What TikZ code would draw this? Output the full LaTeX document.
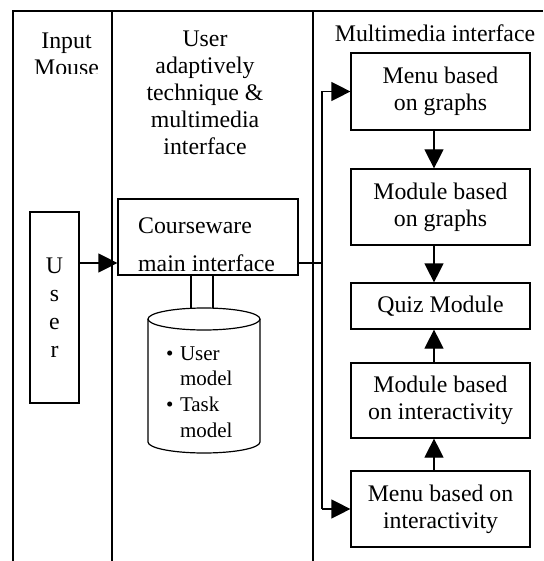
\documentclass[tikz,border=0pt]{standalone}
\usepackage{fontspec}
\setmainfont{Liberation Serif}
\usetikzlibrary{arrows.meta}
\begin{document}
\begin{tikzpicture}[x=1pt,y=1pt,
  every node/.style={font=\fontsize{23.8}{27}\selectfont, inner sep=0pt},
  box/.style={draw, line width=1.2pt, align=center},
  rbox/.style={box, minimum width=179},
  ln/.style={line width=1.2pt},
  arr/.style={line width=1.2pt, -{Triangle[length=19pt,width=19pt]}}]
\useasboundingbox (0,0) rectangle (543,-561);
% frame and column dividers
\draw[ln] (13,-561) -- (13,-11) -- (543,-11);
\draw[ln] (112,-11) -- (112,-561);
\draw[ln] (313,-11) -- (313,-561);
% headings
\begin{scope}
\clip (13,-11) rectangle (112,-73.5);
\node[align=center, anchor=north] (hin) at (66.5,-29.1) {\strut Input\\Mouse};
\end{scope}
\node[align=center, anchor=north] (hua) at (205,-27.6) {\strut User\\adaptively\\technique \&\\multimedia\\interface};
\node[anchor=base] (hmm) at (435,-42) {Multimedia interface};
% user
\node[box, minimum width=49, minimum height=191, font=\fontsize{23.8}{28}\selectfont] (user) at (54.5,-307.5) {U\\s\\e\\r};
% courseware
\node[box, minimum width=180, minimum height=76] (cw) at (208,-237) {};
\node[align=left, anchor=north west, font=\fontsize{23.8}{38}\selectfont] (cwt) at (138,-206.4) {\strut Courseware\\main interface};
% pipe to database
\draw[ln] ([xshift=-17pt]cw.south) -- ++(0,-33.5);
\draw[ln] ([xshift=5pt]cw.south) -- ++(0,-33.5);
% database cylinder
\draw[ln, fill=white] (204,-319) ellipse [x radius=56, y radius=11];
\draw[ln] (148,-319) -- (148,-442) arc[start angle=180, end angle=360, x radius=56, y radius=11] -- (260,-319);
\node[anchor=north west, font=\fontsize{21}{25.7}\selectfont] (db) at (166,-342) {\begin{tabular}{@{}l@{\hspace{6.5pt}}l@{}}\textbullet & User\\ & model\\ \textbullet & Task\\ & model\end{tabular}};
% right column boxes
\node[rbox, minimum height=77] (mg) at (440.5,-91.5) {Menu based\\on graphs};
\node[rbox, minimum height=76] (modg) at (440.5,-207) {Module based\\on graphs};
\node[rbox, minimum height=46] (quiz) at (440.5,-306) {Quiz Module};
\node[rbox, minimum height=75] (modi) at (440.5,-400.5) {Module based\\on interactivity};
\node[rbox, minimum height=76] (mi) at (440.5,-509) {Menu based on\\interactivity};
% arrows in right column
\draw[arr] ([xshift=-6.5pt]mg.south) -- ([xshift=-6.5pt]modg.north);
\draw[arr] ([xshift=-6.5pt]modg.south) -- ([xshift=-6.5pt]quiz.north);
\draw[arr] ([xshift=-6.5pt]modi.north) -- ([xshift=-6.5pt]quiz.south);
\draw[arr] ([xshift=-6.5pt]mi.north) -- ([xshift=-6.5pt]modi.south);
% user to courseware
\coordinate (lvl) at (0,-263);
\draw[arr] (user.east |- lvl) -- (cw.west |- lvl);
% courseware to multimedia bus
\coordinate (bus) at (322,0);
\draw[ln] (cw.east |- lvl) -- (bus |- lvl);
\draw[ln] (bus |- mg.west) -- (bus |- mi.west);
\draw[arr] (bus |- mg.west) -- (mg.west);
\draw[arr] (bus |- mi.west) -- (mi.west);
\end{tikzpicture}
\end{document}
